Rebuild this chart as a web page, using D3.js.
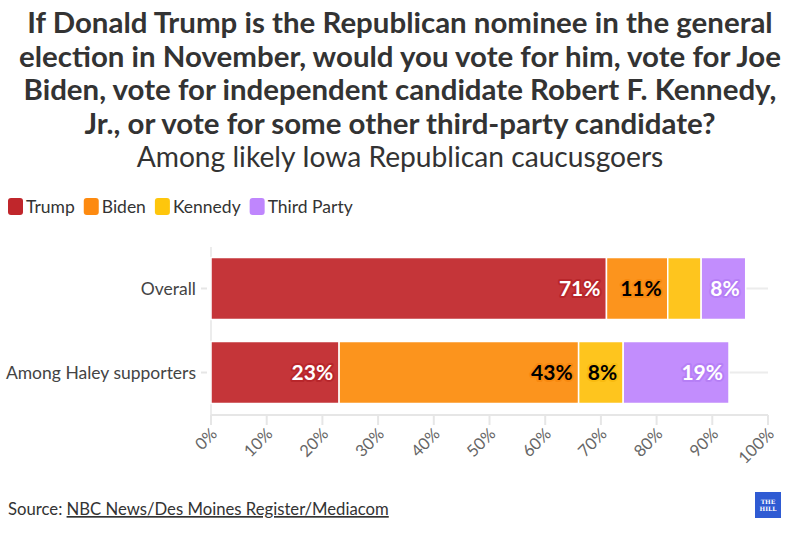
<!DOCTYPE html>
<html>
<head>
<meta charset="utf-8">
<script src="https://cdn.jsdelivr.net/npm/d3@7"></script>
<style>
  body { margin: 0; background: #fff; }
  svg { display: block; font-family: "Source Sans Pro", Lato, "Noto Sans", sans-serif; }
</style>
</head>
<body>
<div id="chart"></div>
<script>
const titleLines = [
  "If Donald Trump is the Republican nominee in the general",
  "election in November, would you vote for him, vote for Joe",
  "Biden, vote for independent candidate Robert F. Kennedy,",
  "Jr., or vote for some other third-party candidate?",
];
const subtitle = "Among likely Iowa Republican caucusgoers";
const categories = ["Overall", "Among Haley supporters"];
const seriesNames = ["Trump", "Biden", "Kennedy", "Third Party"];
const trump = [71, 23];
const biden = [11, 43];
const kennedy = [6, 8];
const thirdParty = [8, 19];
const xTicks = [0, 10, 20, 30, 40, 50, 60, 70, 80, 90, 100];
const sourceText = "NBC News/Des Moines Register/Mediacom";

const colors = {
  Trump: "#c53539",
  Biden: "#fc941d",
  Kennedy: "#fec51e",
  "Third Party": "#c28dfd",
};
const legendColors = {
  Trump: "#c0262b",
  Biden: "#fd8a10",
  Kennedy: "#fec60c",
  "Third Party": "#bf86fd",
};
const labelStyle = {
  Trump: { fill: "#fff", stroke: "#b8262b" },
  Biden: { fill: "#000", stroke: "#f8890f" },
  Kennedy: { fill: "#000", stroke: "#f9bb10" },
  "Third Party": { fill: "#fff", stroke: "#b67ff6" },
};

const width = 800, height = 535;
const margin = { left: 211, right: 32 };

const rows = categories.map((c, i) => ({
  category: c,
  Trump: trump[i],
  Biden: biden[i],
  Kennedy: kennedy[i],
  "Third Party": thirdParty[i],
}));
const stacked = d3.stack().keys(seriesNames)(rows);

const svg = d3.select("#chart").append("svg")
  .attr("width", width).attr("height", height)
  .attr("viewBox", [0, 0, width, height]);

// title, fitted to the reference line width
const title = svg.append("g").attr("fill", "#333").attr("text-anchor", "middle");
const titleText = title.selectAll("text")
  .data(titleLines)
  .join("text")
  .attr("x", width / 2)
  .attr("y", (d, i) => 33 + i * 33.5)
  .attr("font-weight", 700)
  .attr("font-size", 26)
  .text((d) => d);
const w2 = titleText.filter((d, i) => i === 1).node().getComputedTextLength();
titleText.attr("font-size", 26 * 762 / w2);

const sub = svg.append("text")
  .attr("x", width / 2).attr("y", 167)
  .attr("text-anchor", "middle")
  .attr("fill", "#333")
  .attr("font-size", 26)
  .text(subtitle);
const ws = sub.node().getComputedTextLength();
sub.attr("font-size", 26 * 527 / ws);

// legend
const legend = svg.append("g").attr("transform", "translate(8,198)");
let lx = 0;
seriesNames.forEach((name) => {
  const g = legend.append("g").attr("transform", `translate(${lx},0)`);
  g.append("rect")
    .attr("width", 15).attr("height", 17).attr("rx", 3)
    .attr("fill", legendColors[name]);
  const t = g.append("text")
    .attr("x", 18).attr("y", 15)
    .attr("font-size", 17.5).attr("fill", "#333")
    .text(name);
  lx += 18 + t.node().getComputedTextLength() + 9;
});

// scales
const x = d3.scaleLinear().domain([0, 100]).range([margin.left, width - margin.right]);
const y = d3.scaleBand().domain(categories).range([247, 414]).paddingInner(0.262).paddingOuter(0.125);

// grid
svg.append("g")
  .selectAll("line")
  .data(categories)
  .join("line")
  .attr("x1", x(0)).attr("x2", x(100))
  .attr("y1", (d) => y(d) + y.bandwidth() / 2)
  .attr("y2", (d) => y(d) + y.bandwidth() / 2)
  .attr("stroke", "#ececec").attr("stroke-width", 2);
svg.append("line")
  .attr("x1", x(0)).attr("x2", x(0))
  .attr("y1", 247).attr("y2", 415)
  .attr("stroke", "#ececec").attr("stroke-width", 2);

// y axis labels
const gY = svg.append("g");
gY.selectAll("line")
  .data(categories)
  .join("line")
  .attr("x1", x(0) - 10).attr("x2", x(0) - 4)
  .attr("y1", (d) => y(d) + y.bandwidth() / 2)
  .attr("y2", (d) => y(d) + y.bandwidth() / 2)
  .attr("stroke", "#e6e6e6").attr("stroke-width", 2);
gY.selectAll("text")
  .data(categories)
  .join("text")
  .attr("x", x(0) - 15)
  .attr("y", (d) => y(d) + y.bandwidth() / 2)
  .attr("dy", "0.35em")
  .attr("text-anchor", "end")
  .attr("font-size", 17.5)
  .attr("fill", "#444")
  .text((d) => d);

// bars
const gBars = svg.append("g");
stacked.forEach((layer) => {
  const key = layer.key;
  const g = gBars.append("g");
  g.selectAll("rect")
    .data(layer)
    .join("rect")
    .attr("x", (d) => x(d[0]))
    .attr("width", (d) => x(d[1]) - x(d[0]))
    .attr("y", (d) => y(d.data.category))
    .attr("height", y.bandwidth())
    .attr("fill", colors[key])
    .attr("stroke", "#fff")
    .attr("stroke-width", 1.5);
  g.selectAll("text")
    .data(layer.filter((d) => x(d[1]) - x(d[0]) > 40))
    .join("text")
    .attr("x", (d) => x(d[1]) - 6)
    .attr("y", (d) => y(d.data.category) + y.bandwidth() / 2)
    .attr("dy", "0.35em")
    .attr("text-anchor", "end")
    .attr("font-size", 21)
    .attr("font-weight", 700)
    .attr("fill", labelStyle[key].fill)
    .attr("stroke", labelStyle[key].stroke)
    .attr("stroke-width", 4)
    .attr("stroke-linejoin", "round")
    .attr("paint-order", "stroke")
    .text((d) => `${d.data[key]}%`);
});

// x axis
const gX = svg.append("g").attr("transform", "translate(0,415)");
gX.append("line")
  .attr("x1", x(0)).attr("x2", x(100))
  .attr("stroke", "#e6e6e6").attr("stroke-width", 2);
gX.selectAll(".tick")
  .data(xTicks)
  .join("line")
  .attr("x1", (d) => x(d)).attr("x2", (d) => x(d))
  .attr("y1", 0).attr("y2", 10)
  .attr("stroke", "#e6e6e6").attr("stroke-width", 2);
gX.selectAll("text")
  .data(xTicks)
  .join("text")
  .attr("transform", (d) => `translate(${x(d) + 7},${20}) rotate(-45)`)
  .attr("text-anchor", "end")
  .attr("font-size", 16.5)
  .attr("fill", "#666")
  .text((d) => `${d}%`);

// footer
const src = svg.append("text")
  .attr("x", 8).attr("y", 515)
  .attr("font-size", 16.7).attr("fill", "#333");
src.append("tspan").text("Source: ");
src.append("tspan").attr("text-decoration", "underline").text(sourceText);

const logo = svg.append("g").attr("transform", "translate(755,492)");
logo.append("rect").attr("width", 26).attr("height", 26).attr("fill", "#2f5bd3");
logo.append("text").attr("x", 13).attr("y", 12).attr("text-anchor", "middle")
  .attr("font-size", 6).attr("font-family", "DejaVu Serif").attr("font-weight", 700)
  .attr("fill", "#fff").text("THE");
logo.append("text").attr("x", 13).attr("y", 19).attr("text-anchor", "middle")
  .attr("font-size", 6).attr("font-family", "DejaVu Serif").attr("font-weight", 700)
  .attr("fill", "#fff").text("HILL");
</script>
</body>
</html>
